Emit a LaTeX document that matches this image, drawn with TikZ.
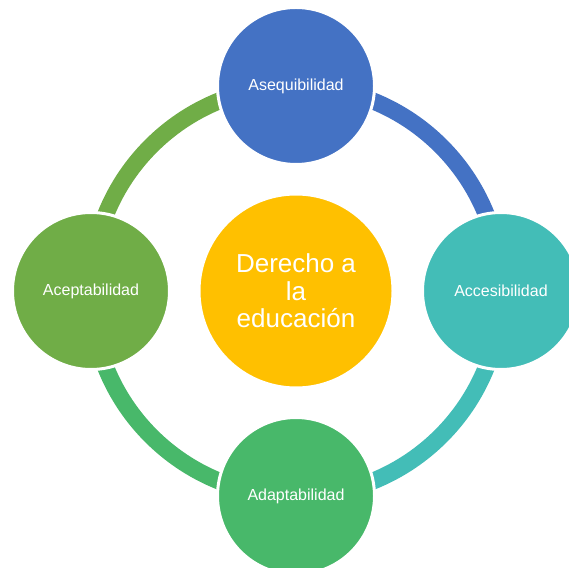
\documentclass[tikz,border=0pt]{standalone}
\usepackage{fontspec}
\setmainfont{Liberation Sans}
\usetikzlibrary{positioning}

\definecolor{asqblue}{HTML}{4472C4}
\definecolor{accteal}{HTML}{43BDB7}
\definecolor{adagreen}{HTML}{48B86A}
\definecolor{aceolive}{HTML}{70AD47}
\definecolor{centregold}{HTML}{FFC000}

\begin{document}
\begin{tikzpicture}[
    x=1pt, y=1pt,
    % Outer circle: one of the four dimensions
    dimcircle/.style={circle, draw=white, line width=3pt,
        minimum size=157pt, inner sep=0pt, text=white,
        font=\fontsize{16}{19}\selectfont},
    % Central circle
    corecircle/.style={circle, draw=white, line width=3pt,
        minimum size=194pt, inner sep=0pt, text=white, align=center,
        font=\fontsize{26}{27.5}\selectfont},
    % Ring segment between two dimensions
    band/.style={line width=17pt},
]

% Canvas
\useasboundingbox (0,0) rectangle (569,567);
\fill[white] (0,0) rectangle (569,567);

% ====================================================
% RING SEGMENTS (under the circles)
% ====================================================
\coordinate (ring-top) at (296,481);
\coordinate (ring-right) at (501,276);
\coordinate (ring-bottom) at (296,71);
\coordinate (ring-left) at (91,276);

\draw[band, asqblue] (ring-top) arc[start angle=90, end angle=0, radius=205pt];
\draw[band, accteal] (ring-right) arc[start angle=0, end angle=-90, radius=205pt];
\draw[band, adagreen] (ring-bottom) arc[start angle=270, end angle=180, radius=205pt];
\draw[band, aceolive] (ring-left) arc[start angle=180, end angle=90, radius=205pt];

% ====================================================
% CIRCLES
% ====================================================
\node[corecircle, fill=centregold] (core) at (296,276)
    {Derecho a\\la\\educación};

\node[dimcircle, fill=asqblue] (asq) at (ring-top) {Asequibilidad};
\node[dimcircle, fill=accteal] (acc) at (ring-right) {Accesibilidad};
\node[dimcircle, fill=adagreen] (ada) at (ring-bottom) {Adaptabilidad};
\node[dimcircle, fill=aceolive] (ace) at (ring-left) {Aceptabilidad};

\end{tikzpicture}
\end{document}
